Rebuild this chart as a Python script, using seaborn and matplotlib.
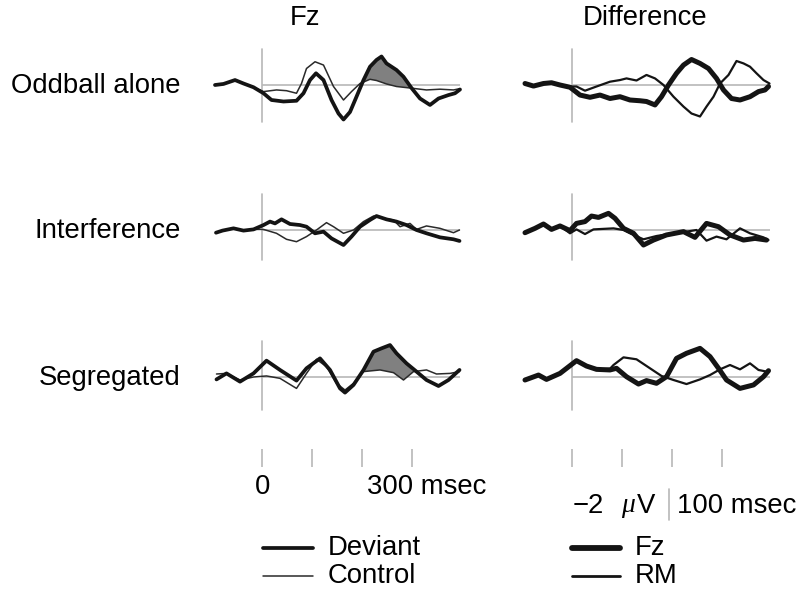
import numpy as np
import matplotlib
matplotlib.use("Agg")
import matplotlib.pyplot as plt
from matplotlib.lines import Line2D
import seaborn as sns

sns.set_theme(style="white")
plt.rcParams['font.family'] = ['Liberation Sans', 'DejaVu Sans']
plt.rcParams['text.color'] = 'black'

# ---------------- data (time in ms, amplitude in microvolts; negative plotted up) -------------
row_labels = ["Oddball alone", "Interference", "Segregated"]
col_titles = ["Fz", "Difference"]
tick_ms = [0, 100, 200, 300]

# Row 1 : Oddball alone
r1_dev_t = [-94, -77, -54, -37, -17, 3, 19, 43, 69, 83, 96, 108, 123, 139, 153, 163, 176, 189, 203, 216,
            229, 239, 249, 269, 283, 299, 316, 336, 353, 373, 386, 396]
r1_dev_v = [0, -0.07, -0.33, -0.1, 0.15, 0.55, 1.0, 1.1, 1.05, 0.55, -0.33, -0.78, -0.33, 1.0, 1.9, 2.3,
            1.8, 0.78, -0.33, -1.22, -1.67, -1.9, -1.44, -1.0, -0.55, 0.2, 0.9, 1.33, 0.9, 0.67, 0.55, 0.3]
r1_con_t = [-94, -77, -54, -37, -17, 3, 29, 49, 69, 79, 89, 106, 123, 143, 163, 179, 196, 216, 229, 249,
            269, 296, 329, 356, 383, 396]
r1_con_v = [0, -0.07, -0.33, -0.1, 0.15, 0.44, 0.33, 0.38, 0.55, -0.1, -1.1, -1.55, -1.33, 0.1, 1.0, 0.44,
            -0.1, -0.38, -0.3, -0.07, 0.1, 0.2, 0.33, 0.28, 0.33, 0.24]
r1_fz_t = [-94, -77, -57, -41, -24, -4, 16, 36, 56, 76, 96, 116, 136, 149, 166, 179, 193, 209, 223, 239,
           256, 273, 289, 303, 319, 336, 356, 373, 386, 393]
r1_fz_v = [-0.1, 0.07, -0.1, -0.15, 0, 0.15, 0.67, 0.82, 0.67, 0.9, 0.78, 1.0, 1.05, 1.1, 1.33, 0.78, 0,
           -0.78, -1.33, -1.7, -1.44, -1.1, -0.44, 0.33, 0.9, 1.0, 0.78, 0.44, 0.33, 0.1]
r1_rm_t = [-94, -77, -57, -41, -24, -4, 9, 26, 49, 76, 96, 109, 129, 149, 166, 183, 203, 223, 239, 256,
           269, 283, 296, 313, 329, 343, 356, 369, 383, 395]
r1_rm_v = [-0.1, 0.07, -0.1, -0.15, 0, 0.1, 0.1, 0.38, 0.1, -0.22, -0.33, -0.44, -0.3, -0.67, -0.44, 0,
           0.78, 1.44, 1.9, 2.1, 1.44, 0.78, -0.1, -0.67, -1.6, -1.44, -1.22, -0.78, -0.33, -0.1]
r1_shade = [196, 299]

# Row 2 : Interference
r2_dev_t = [-92, -79, -57, -37, -17, 3, 16, 26, 39, 56, 76, 89, 106, 123, 139, 163, 179, 196, 216, 229,
            249, 269, 289, 309, 329, 356, 383, 395]
r2_dev_v = [0.18, 0.04, -0.11, 0.04, -0.04, -0.33, -0.56, -0.44, -0.71, -0.4, -0.33, -0.22, 0.22, 0.11,
            0.56, 1.0, 0.44, -0.22, -0.67, -0.93, -0.71, -0.56, -0.33, 0, 0.22, 0.49, 0.62, 0.73]
r2_con_t = [-92, -79, -57, -37, -17, 3, 29, 49, 69, 89, 109, 129, 143, 163, 183, 203, 223, 243, 263, 276,
            296, 309, 329, 356, 383, 395]
r2_con_v = [0.18, 0.04, -0.11, 0.04, -0.04, -0.04, 0.22, 0.62, 0.78, 0.44, 0, -0.49, -0.22, 0.22, 0,
            -0.56, -0.93, -0.78, -0.67, -0.22, -0.44, -0.04, -0.27, -0.11, 0.18, 0]
r2_fz_t = [-94, -74, -57, -41, -24, -4, 9, 26, 39, 53, 73, 86, 103, 123, 143, 163, 189, 223, 246, 269,
           293, 316, 343, 366, 389]
r2_fz_v = [0.18, -0.11, -0.4, -0.04, -0.27, 0.04, -0.44, -0.56, -0.93, -0.84, -1.11, -0.78, -0.11, 0.22,
           1.0, 0.67, 0.33, 0.11, 0.49, -0.44, -0.22, 0.33, 0.67, 0.56, 0.67]
r2_rm_t = [-94, -74, -57, -41, -24, -4, 9, 26, 43, 83, 103, 123, 143, 169, 203, 229, 249, 269, 289, 309,
           336, 356, 383, 393]
r2_rm_v = [0.18, -0.11, -0.4, -0.04, -0.27, 0.22, -0.04, 0.27, -0.04, -0.11, 0, 0.33, 0.62, 0.4, 0.22,
           0.11, 0, 0.71, 0.44, 0.62, -0.11, 0.22, 0.49, 0.67]

# Row 3 : Segregated
r3_dev_t = [-91, -71, -44, -17, 9, 36, 69, 89, 116, 136, 156, 166, 183, 203, 223, 239, 256, 269, 289, 309,
            329, 353, 373, 395]
r3_dev_v = [0.16, -0.24, 0.31, -0.24, -1.09, -0.47, 0.24, -0.58, -1.24, -0.47, 0.76, 1.04, 0.53, -0.47,
            -1.69, -1.91, -2.13, -1.58, -0.91, -0.36, 0.2, 0.6, 0.2, -0.47]
r3_con_t = [-91, -71, -44, -17, 9, 36, 69, 89, 109, 129, 149, 166, 183, 203, 236, 263, 283, 303, 329, 349,
            376, 395]
r3_con_v = [-0.2, -0.24, 0.2, 0, -0.07, 0.09, 0.76, -0.24, -1.18, -0.69, 0.42, 0.87, 0.42, -0.36, -0.47,
            -0.29, 0.2, -0.36, -0.47, -0.2, -0.24, -0.36]
r3_fz_t = [-94, -67, -51, -24, 9, 29, 49, 76, 89, 109, 133, 149, 169, 189, 209, 229, 256, 276, 293, 309,
           336, 363, 383, 393]
r3_fz_v = [0.2, -0.13, 0.16, -0.24, -1.09, -0.73, -0.51, -0.47, -0.58, -0.02, 0.47, 0.24, 0.42, -0.02,
           -1.24, -1.58, -1.91, -1.36, -0.58, 0.2, 0.76, 0.53, -0.02, -0.42]
r3_rm_t = [-94, -67, -51, -24, 9, 29, 49, 76, 83, 103, 129, 156, 179, 203, 229, 256, 276, 296, 316, 336,
           356, 373, 389]
r3_rm_v = [0.2, -0.13, 0.16, -0.24, -1.09, -0.73, -0.51, -0.55, -0.8, -1.31, -1.18, -0.58, -0.07, 0.2,
           0.47, 0.16, -0.13, -0.51, -0.8, -0.51, -0.91, -0.47, -0.36]
r3_shade = [200, 306]

rows = [
    dict(dev=(r1_dev_t, r1_dev_v), con=(r1_con_t, r1_con_v), fz=(r1_fz_t, r1_fz_v), rm=(r1_rm_t, r1_rm_v),
         shade=r1_shade),
    dict(dev=(r2_dev_t, r2_dev_v), con=(r2_con_t, r2_con_v), fz=(r2_fz_t, r2_fz_v), rm=(r2_rm_t, r2_rm_v),
         shade=None),
    dict(dev=(r3_dev_t, r3_dev_v), con=(r3_con_t, r3_con_v), fz=(r3_fz_t, r3_fz_v), rm=(r3_rm_t, r3_rm_v),
         shade=r3_shade),
]

# ---------------- layout helpers (pixels) ----------------
W, H = 803, 591
fig = plt.figure(figsize=(W / 100, H / 100), dpi=100)


def fx(px):
    return px / W


def fy(py):
    return 1 - py / H


def add_ax(x0, x1, y0, y1):
    ax = fig.add_axes([fx(x0), fy(y1), (x1 - x0) / W, (y1 - y0) / H])
    ax.set_axis_off()
    return ax


PX_PER_UV = 15.0
FS = 19.8
baselines = [85, 230, 377]
vlines_px = [(49, 122), (194, 260), (341, 410)]
col_x = [(205, 465), (515, 775)]          # -114 ms .. 406 ms
XLIM = (-114, 406)
GRID = "#b8b8b8"
INK = "#141414"

for r, (row, base, (vy0, vy1)) in enumerate(zip(rows, baselines, vlines_px)):
    top, bot = base - 55, base + 50
    for c in range(2):
        ax = add_ax(col_x[c][0], col_x[c][1], top, bot)
        ax.set_xlim(*XLIM)
        ax.set_ylim((bot - base) / PX_PER_UV, (top - base) / PX_PER_UV)   # inverted: negative up
        # reference lines
        ymin = (bot - vy1) / (bot - top)
        ymax = (bot - vy0) / (bot - top)
        ax.axvline(0, ymin=ymin, ymax=ymax, color=GRID, lw=1.2, zorder=1)
        ax.hlines(0, 0, 396, color=GRID, lw=1.2, zorder=1)
        if c == 0:
            dt, dv = row["dev"]
            ct, cv = row["con"]
            if row["shade"] is not None:
                s0, s1 = row["shade"]
                pd_t = [t for t in dt if s0 <= t <= s1]
                pd_v = [v for t, v in zip(dt, dv) if s0 <= t <= s1]
                pc_t = [t for t in ct if s0 <= t <= s1]
                pc_v = [v for t, v in zip(ct, cv) if s0 <= t <= s1]
                ax.fill(pd_t + pc_t[::-1], pd_v + pc_v[::-1], color="#808080", lw=0, zorder=2)
            sns.lineplot(x=ct, y=cv, ax=ax, color="#2a2a2a", lw=1.1, sort=False, estimator=None, zorder=3)
            sns.lineplot(x=dt, y=dv, ax=ax, color=INK, lw=2.7, sort=False, estimator=None, zorder=4)
        else:
            ft, fv = row["fz"]
            rt, rv = row["rm"]
            sns.lineplot(x=rt, y=rv, ax=ax, color=INK, lw=1.6, sort=False, estimator=None, zorder=3)
            sns.lineplot(x=ft, y=fv, ax=ax, color=INK, lw=3.6, sort=False, estimator=None, zorder=4)
        for ln in ax.lines:
            ln.set_solid_joinstyle("round")
            ln.set_solid_capstyle("round")
        ax.set_axis_off()

    fig.text(fx(181), fy(base + 1), row_labels[r], ha="right", va="center", fontsize=FS, color="black")

# column titles
fig.text(fx(305), fy(18), col_titles[0], ha="center", va="center", fontsize=FS)
fig.text(fx(645), fy(18), col_titles[1], ha="center", va="center", fontsize=FS)

# time tick marks under each column
for c in range(2):
    tax = add_ax(col_x[c][0], col_x[c][1], 448, 468)
    tax.set_xlim(*XLIM)
    tax.set_ylim(0, 1)
    tax.vlines(tick_ms, 0.05, 0.95, color=GRID, lw=1.2)
    tax.set_axis_off()

fig.text(fx(263), fy(487), "0", ha="center", va="center", fontsize=FS)
fig.text(fx(367), fy(487), "300 msec", ha="left", va="center", fontsize=FS)

# scale bar
fig.text(fx(573), fy(506), "\u22122", ha="left", va="center", fontsize=FS)
fig.text(fx(621), fy(506), "\u03bc", ha="left", va="center", fontsize=FS, family="Liberation Serif",
         style="italic")
fig.text(fx(637), fy(506), "V", ha="left", va="center", fontsize=FS)
fig.add_artist(Line2D([fx(669), fx(669)], [fy(489), fy(520)], color=GRID, lw=1.2, transform=fig.transFigure))
fig.text(fx(677), fy(506), "100 msec", ha="left", va="center", fontsize=FS)

# legends
leg = [(263, 313, 548, 2.7, INK, "Deviant"), (263, 313, 576, 1.1, "#2a2a2a", "Control"),
       (572, 620, 548, 4.2, INK, "Fz"), (572, 620, 576, 2.0, INK, "RM")]
for x0, x1, y, lw, col, lab in leg:
    fig.add_artist(Line2D([fx(x0), fx(x1)], [fy(y), fy(y)], color=col, lw=lw, transform=fig.transFigure))
    fig.text(fx(x1 + 15), fy(y), lab, ha="left", va="center", fontsize=FS)

fig.savefig("out.png", dpi=100)
